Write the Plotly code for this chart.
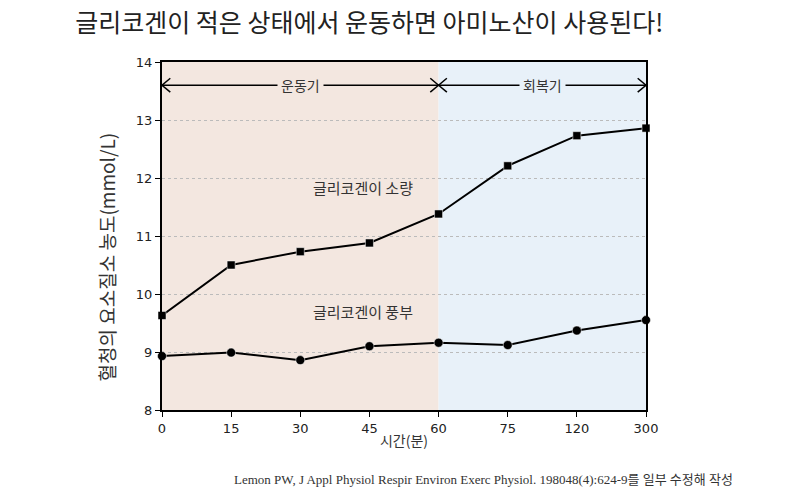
import plotly.graph_objects as go

# 시간(분) - 등간격 카테고리
times = ["0", "15", "30", "45", "60", "75", "120", "300"]

# 혈청 요소질소 농도 (mmol/L)
low_glycogen = [9.63, 10.50, 10.73, 10.88, 11.38, 12.21, 12.73, 12.86]
high_glycogen = [8.93, 8.99, 8.86, 9.10, 9.16, 9.12, 9.37, 9.55]

y_ticks = [8, 9, 10, 11, 12, 13, 14]

KR = "Noto Sans CJK KR"
PINK = "#f3e7e0"
BLUE = "#e8f1f9"

fig = go.Figure()

fig.add_trace(go.Scatter(
    x=times, y=low_glycogen, mode="lines+markers",
    line=dict(color="black", width=2),
    marker=dict(symbol="square", size=8, color="black",
                line=dict(color="white", width=0.5)),
    cliponaxis=False, showlegend=False
))
fig.add_trace(go.Scatter(
    x=times, y=high_glycogen, mode="lines+markers",
    line=dict(color="black", width=2),
    marker=dict(symbol="circle", size=9, color="black",
                line=dict(color="white", width=0.5)),
    cliponaxis=False, showlegend=False
))

# 배경 구간 (운동기 / 회복기)
fig.add_shape(type="rect", xref="x", yref="y", x0=0, x1=4, y0=8, y1=14,
              fillcolor=PINK, line_width=0, layer="below")
fig.add_shape(type="rect", xref="x", yref="y", x0=4, x1=7, y0=8, y1=14,
              fillcolor=BLUE, line_width=0, layer="below")

# 구간 화살표
arrow_y = 13.6
for x0, x1, label, bg in [(0, 4, "운동기", PINK), (4, 7, "회복기", BLUE)]:
    fig.add_shape(type="line", xref="x", yref="y", x0=x0, x1=x1,
                  y0=arrow_y, y1=arrow_y, line=dict(color="black", width=1.5))
    for xa, xb in [(x0, x0 + 0.12), (x1, x1 - 0.12)]:
        fig.add_shape(type="line", xref="x", yref="y", x0=xb, x1=xa,
                      y0=arrow_y + 0.12, y1=arrow_y, line=dict(color="black", width=1.5))
        fig.add_shape(type="line", xref="x", yref="y", x0=xb, x1=xa,
                      y0=arrow_y - 0.12, y1=arrow_y, line=dict(color="black", width=1.5))
    fig.add_annotation(x=(x0 + x1) / 2, y=arrow_y, xref="x", yref="y",
                       text=label, showarrow=False, bgcolor=bg,
                       font=dict(family=KR, size=14, color="#333"),
                       borderpad=3)

fig.add_annotation(x=2.9, y=11.83, xref="x", yref="y", text="글리코겐이 소량",
                   showarrow=False, font=dict(family=KR, size=15, color="#333"))
fig.add_annotation(x=2.9, y=9.69, xref="x", yref="y", text="글리코겐이 풍부",
                   showarrow=False, font=dict(family=KR, size=15, color="#333"))

# y축 제목 (조금 아래쪽에 위치)
fig.add_annotation(x=0, y=10.64, xref="paper", yref="y", xshift=-71, textangle=-90,
                   text="혈청의 요소질소 농도(mmol/L)", showarrow=False,
                   font=dict(family=KR, size=19, color="#333"))

# 출처
fig.add_annotation(x=1.184, y=-0.201, xref="paper", yref="paper", xanchor="right", yanchor="middle",
                   text="Lemon PW, J Appl Physiol Respir Environ Exerc Physiol. 198048(4):624-9를 일부 수정해 작성",
                   showarrow=False, font=dict(family="Liberation Serif, " + KR, size=13, color="#333"))

fig.update_layout(
    width=800, height=495,
    margin=dict(l=154, r=162, t=54, b=93),
    plot_bgcolor="white", paper_bgcolor="white",
    showlegend=False,
    title=dict(text="글리코겐이 적은 상태에서 운동하면 아미노산이 사용된다!",
               x=0.084, xanchor="left", y=0.986, yanchor="top",
               font=dict(family=KR, size=25, color="#222")),
)

fig.update_xaxes(
    type="category", range=[0, 7],
    showline=True, linecolor="black", linewidth=2, mirror=True,
    ticks="outside", ticklen=5, tickcolor="black",
    showgrid=False, zeroline=False,
    tickfont=dict(family="DejaVu Sans", size=13, color="#222"),
    title=dict(text="시간(분)", font=dict(family=KR, size=14, color="#333"), standoff=2),
    automargin=False,
)
fig.update_yaxes(
    range=[8, 14], tickvals=y_ticks,
    showline=True, linecolor="black", linewidth=2, mirror=True,
    ticks="outside", ticklen=5, tickcolor="black",
    showgrid=True, gridcolor="#bbbbbb", griddash="dot", gridwidth=1,
    zeroline=False,
    tickfont=dict(family="DejaVu Sans", size=13, color="#222"),
    automargin=False,
)

fig.write_html("out.html")
